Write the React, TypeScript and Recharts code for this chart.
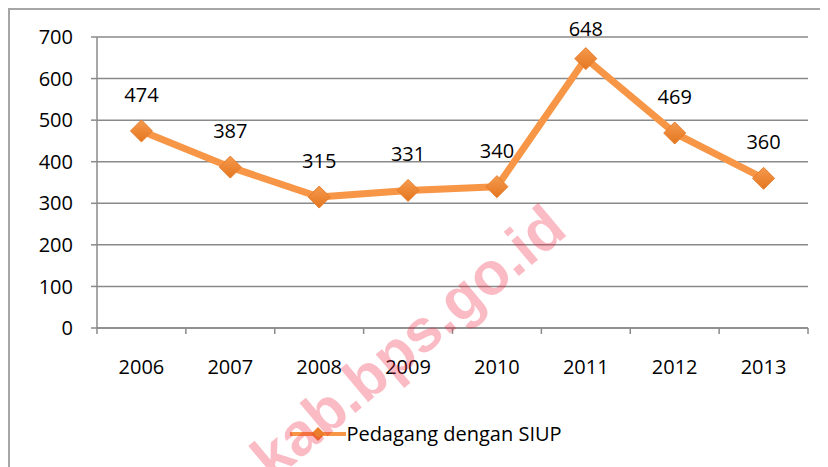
import { LineChart, Line, XAxis, YAxis, CartesianGrid, Legend, LabelList } from 'recharts';

const years = ['2006', '2007', '2008', '2009', '2010', '2011', '2012', '2013'];
const pedagangSiup = [474, 387, 315, 331, 340, 648, 469, 360];
const yTicks = [0, 100, 200, 300, 400, 500, 600, 700];

const data = years.map((year, i) => ({ year, value: pedagangSiup[i] }));

const FONT = '"Open Sans", "Liberation Sans", sans-serif';
const AXIS_GRAY = '#8a8a8a';
const LINE_ORANGE = '#F79646';
const TICK_SIZE = 6;
const X_TICK_MARGIN = 26;
const PLOT_TOP = 27;

function Diamond(props: any) {
  const { cx, cy } = props;
  if (cx == null || cy == null) return null;
  const r = 11;
  return (
    <path
      d={`M${cx},${cy - r}L${cx + r},${cy}L${cx},${cy + r}L${cx - r},${cy}Z`}
      fill="url(#diamondFill)"
      stroke="#E67D2C"
      strokeWidth={1}
    />
  );
}

function XTick(props: any) {
  const { x, y, payload, index } = props;
  const half = payload.offset ?? 44;
  const axisY = y - TICK_SIZE - X_TICK_MARGIN;
  return (
    <g>
      <line x1={x - half} y1={axisY} x2={x - half} y2={axisY + TICK_SIZE} stroke={AXIS_GRAY} strokeWidth={1.5} />
      {index === years.length - 1 && (
        <line x1={x + half} y1={axisY} x2={x + half} y2={axisY + TICK_SIZE} stroke={AXIS_GRAY} strokeWidth={1.5} />
      )}
      <text x={x} y={y} dy="0.71em" textAnchor="middle" fill="#000" fontSize={20} fontFamily={FONT}>
        {payload.value}
      </text>
    </g>
  );
}

function ValueLabel(props: any) {
  const { x, y, value } = props;
  return (
    <text x={x} y={Math.max(y - 29, PLOT_TOP - 1)} textAnchor="middle" fill="#000" fontSize={20} fontFamily={FONT}>
      {value}
    </text>
  );
}

function LegendContent() {
  return (
    <div style={{ display: 'flex', justifyContent: 'center', alignItems: 'center', paddingLeft: 14, fontFamily: FONT, fontSize: 20, color: '#000' }}>
      <svg width={56} height={24} style={{ marginRight: 0 }}>
        <line x1={0} y1={12} x2={56} y2={12} stroke={LINE_ORANGE} strokeWidth={4} />
        <path d="M28,5L35,12L28,19L21,12Z" fill="#EC7F2C" />
      </svg>
      <span>Pedagang dengan SIUP</span>
    </div>
  );
}

export default function App() {
  return (
    <div
      style={{
        position: 'relative',
        width: 818,
        height: 457,
        borderLeft: '2px solid #a6a6a6',
        borderTop: '2px solid #a6a6a6',
        overflow: 'hidden',
        background: '#fff',
      }}
    >
      <LineChart width={818} height={457} data={data} margin={{ top: PLOT_TOP, right: 20, bottom: 0, left: 0 }}>
        <defs>
          <linearGradient id="diamondFill" x1="0" y1="0" x2="0" y2="1">
            <stop offset="0%" stopColor="#F59A4E" />
            <stop offset="100%" stopColor="#E4761F" />
          </linearGradient>
        </defs>
        <CartesianGrid vertical={false} stroke={AXIS_GRAY} strokeWidth={1.5} />
        <XAxis
          dataKey="year"
          scale="band"
          height={139}
          tickSize={TICK_SIZE}
          tickMargin={X_TICK_MARGIN}
          tickLine={false}
          axisLine={{ stroke: AXIS_GRAY, strokeWidth: 1.5 }}
          tick={<XTick />}
          interval={0}
        />
        <YAxis
          width={87}
          domain={[0, 700]}
          ticks={yTicks}
          tickSize={TICK_SIZE}
          tickMargin={18}
          tickLine={{ stroke: AXIS_GRAY, strokeWidth: 1.5 }}
          axisLine={{ stroke: AXIS_GRAY, strokeWidth: 1.5 }}
          tick={{ fill: '#000', fontSize: 20, fontFamily: FONT }}
          interval={0}
        />
        <Legend
          verticalAlign="middle"
          layout="horizontal"
          align="center"
          content={<LegendContent />}
          wrapperStyle={{ top: 410, left: 0, width: 818 }}
        />
        <Line
          type="linear"
          dataKey="value"
          name="Pedagang dengan SIUP"
          stroke={LINE_ORANGE}
          strokeWidth={7}
          strokeLinejoin="round"
          dot={<Diamond />}
          activeDot={false}
          isAnimationActive={false}
        >
          <LabelList dataKey="value" content={<ValueLabel />} />
        </Line>
      </LineChart>
      <div
        style={{
          position: 'absolute',
          left: 398,
          top: 332,
          transform: 'translate(-50%, -50%) rotate(-40deg)',
          fontFamily: '"Liberation Sans", Arial, sans-serif',
          fontWeight: 'bold',
          fontSize: 60,
          color: 'rgba(240, 30, 60, 0.3)',
          whiteSpace: 'nowrap',
          pointerEvents: 'none',
        }}
      >
        kab.bps.go.id
      </div>
    </div>
  );
}
